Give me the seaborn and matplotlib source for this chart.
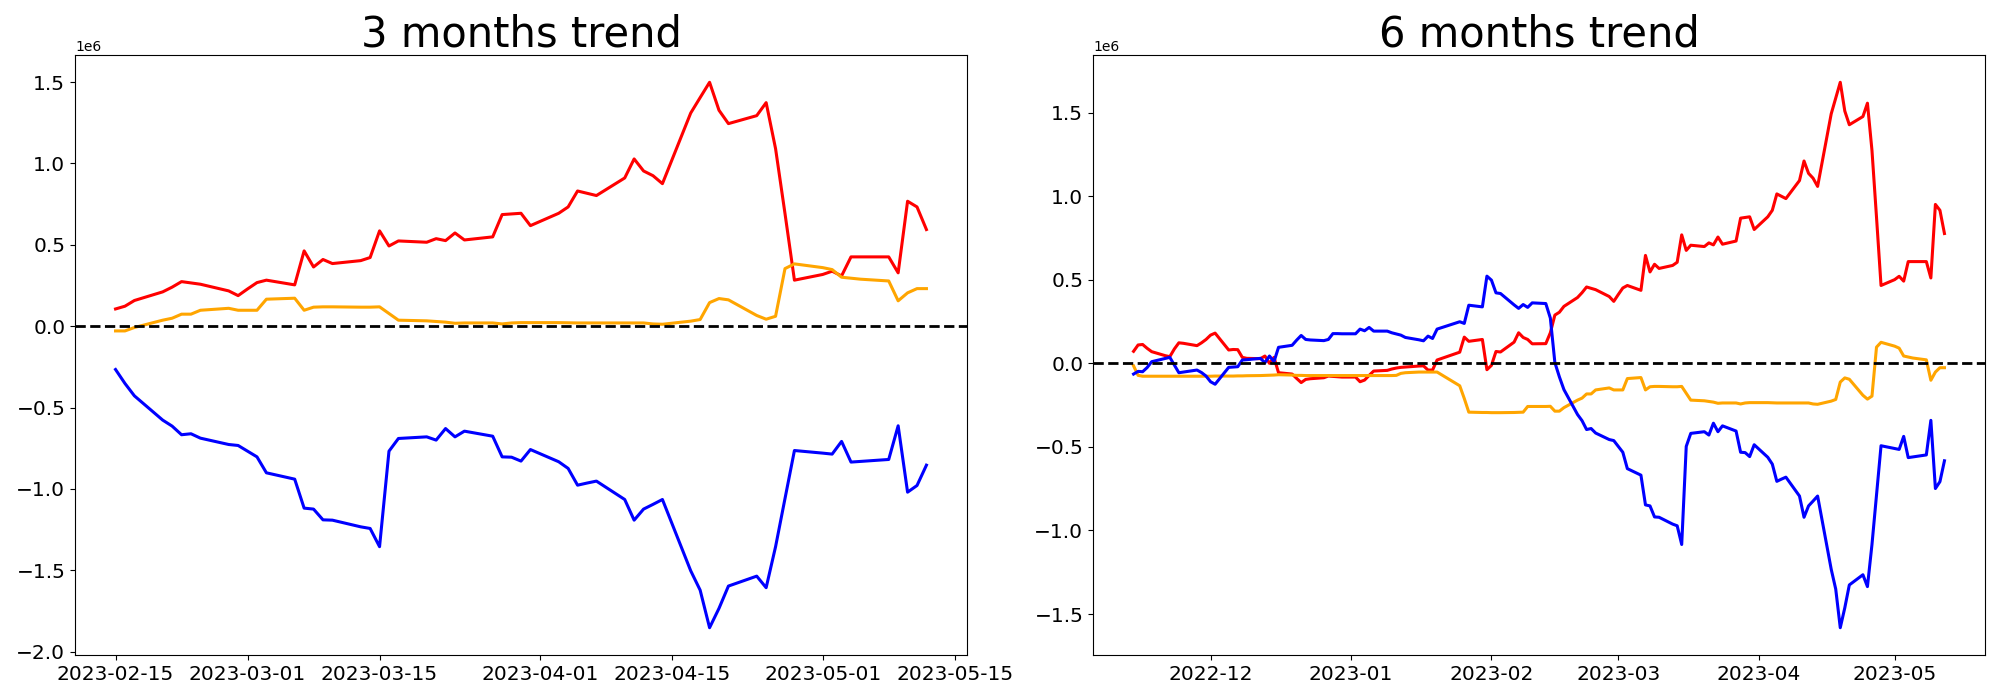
import numpy as np
import pandas as pd
import matplotlib
matplotlib.use("Agg")
import matplotlib.pyplot as plt
import matplotlib.dates as mdates
import seaborn as sns

# ---------------- data (values in millions) ----------------
dates_3m = pd.bdate_range("2023-02-15", "2023-05-12")
dates_6m = pd.bdate_range("2022-11-14", "2023-05-12", freq="C",
                          holidays=["2023-01-23", "2023-01-24"])

red_3m = [
    0.106, 0.123, 0.158, 0.211, 0.240, 0.274, 0.266, 0.258, 0.217, 0.188,
    0.229, 0.268, 0.283, 0.254, 0.463, 0.364, 0.410, 0.385, 0.403, 0.422, 0.586, 0.493, 0.524,
    0.516, 0.538, 0.526, 0.573, 0.530, 0.549, 0.686, 0.690, 0.694, 0.618,
    0.694, 0.733, 0.831, 0.817, 0.803, 0.911, 1.028, 0.954, 0.925, 0.876, 1.310, 1.405, 1.499,
    1.327, 1.245, 1.294, 1.374, 1.091, 0.692, 0.283,
    0.318, 0.338, 0.309, 0.426, 0.426, 0.426, 0.328, 0.768, 0.733, 0.594,
]
orange_3m = [
    -0.029, -0.029, -0.008, 0.037, 0.049, 0.074, 0.074, 0.098, 0.110, 0.098,
    0.098, 0.098, 0.166, 0.172, 0.098, 0.117, 0.119, 0.119, 0.117, 0.117, 0.119, 0.078, 0.037,
    0.033, 0.029, 0.025, 0.018, 0.020, 0.020, 0.014, 0.020, 0.022, 0.022,
    0.022, 0.021, 0.020, 0.020, 0.020, 0.020, 0.020, 0.020, 0.014, 0.012, 0.031, 0.041, 0.145,
    0.170, 0.162, 0.066, 0.043, 0.061, 0.354, 0.383,
    0.360, 0.348, 0.301, 0.295, 0.289, 0.278, 0.156, 0.205, 0.231, 0.231,
]
blue_3m = [
    -0.266, -0.352, -0.428, -0.577, -0.614, -0.667, -0.661, -0.688, -0.727, -0.733,
    -0.768, -0.803, -0.901, -0.940, -1.118, -1.124, -1.190, -1.192, -1.233, -1.243, -1.355,
    -0.768, -0.690, -0.680, -0.700, -0.629, -0.680, -0.645, -0.676, -0.803, -0.805, -0.829,
    -0.758,
    -0.833, -0.874, -0.977, -0.964, -0.952, -1.065, -1.192, -1.124, -1.095, -1.065, -1.503,
    -1.622, -1.853, -1.734, -1.597, -1.536, -1.607, -1.355, -1.059, -0.764,
    -0.780, -0.786, -0.708, -0.835, -0.831, -0.819, -0.612, -1.020, -0.979, -0.854,
]

red_6m = [
    # Nov
    0.072, 0.110, 0.113, 0.090, 0.070, 0.046, 0.040, 0.086, 0.123, 0.120, 0.106, 0.123, 0.143,
    # Dec
    0.169, 0.181, 0.080, 0.083, 0.082, 0.036, 0.030, 0.028, 0.044, 0.000, 0.036, -0.056,
    -0.064, -0.090, -0.115, -0.096, -0.092, -0.086, -0.076, -0.078, -0.080, -0.082,
    # Jan
    -0.082, -0.110, -0.100, -0.072, -0.046, -0.042, -0.034, -0.028, -0.024, -0.022,
    -0.016, -0.015, -0.040, -0.040, 0.020, 0.067, 0.157, 0.132, 0.143, -0.038,
    # Feb
    -0.012, 0.071, 0.068, 0.127, 0.183, 0.155, 0.143, 0.117, 0.118, 0.183,
    0.289, 0.306, 0.341, 0.394, 0.423, 0.457, 0.449, 0.441, 0.400, 0.371,
    # Mar
    0.412, 0.451, 0.466, 0.437, 0.646, 0.547, 0.593, 0.568, 0.586, 0.605, 0.769, 0.676,
    0.707, 0.699, 0.721, 0.709, 0.756, 0.713, 0.732, 0.869, 0.873, 0.877, 0.801,
    # Apr
    0.877, 0.916, 1.014, 1.000, 0.986, 1.094, 1.211, 1.137, 1.108, 1.059, 1.493, 1.588,
    1.682, 1.510, 1.428, 1.477, 1.557, 1.274, 0.875, 0.466,
    # May
    0.501, 0.521, 0.492, 0.609, 0.609, 0.609, 0.511, 0.951, 0.916, 0.777,
]
orange_6m = [
    # Nov
    -0.015, -0.072, -0.077, -0.077, -0.077, -0.077, -0.077, -0.077, -0.077, -0.077,
    -0.077, -0.077, -0.077,
    # Dec
    -0.077, -0.076, -0.076, -0.076, -0.075, -0.075, -0.074, -0.073, -0.072, -0.071,
    -0.070, -0.068, -0.070, -0.072, -0.072, -0.073, -0.073, -0.073, -0.073, -0.073,
    -0.073, -0.073,
    # Jan
    -0.073, -0.073, -0.073, -0.073, -0.073, -0.073, -0.073, -0.072, -0.060, -0.056,
    -0.052, -0.052, -0.052, -0.052, -0.052, -0.134, -0.210, -0.292, -0.294, -0.294,
    # Feb
    -0.295, -0.295, -0.295, -0.294, -0.293, -0.292, -0.258, -0.258, -0.258, -0.257,
    -0.286, -0.286, -0.265, -0.220, -0.208, -0.183, -0.183, -0.159, -0.147, -0.159,
    # Mar
    -0.159, -0.159, -0.091, -0.085, -0.159, -0.140, -0.138, -0.138, -0.140, -0.140,
    -0.138, -0.179, -0.220, -0.224, -0.228, -0.232, -0.239, -0.237, -0.237, -0.243,
    -0.237, -0.235, -0.235,
    # Apr
    -0.235, -0.236, -0.237, -0.237, -0.237, -0.237, -0.237, -0.237, -0.243, -0.245,
    -0.226, -0.216, -0.112, -0.087, -0.095, -0.191, -0.214, -0.196, 0.097, 0.126,
    # May
    0.103, 0.091, 0.044, 0.038, 0.032, 0.021, -0.101, -0.052, -0.026, -0.026,
]
blue_6m = [
    # Nov
    -0.064, -0.048, -0.050, -0.025, 0.010, 0.030, 0.036, -0.010, -0.056, -0.052,
    -0.040, -0.055, -0.076,
    # Dec
    -0.110, -0.125, -0.024, -0.022, -0.020, 0.020, 0.022, 0.030, 0.004, 0.044, 0.010,
    0.096, 0.108, 0.139, 0.167, 0.143, 0.140, 0.136, 0.143, 0.178, 0.178, 0.177,
    # Jan
    0.177, 0.205, 0.195, 0.215, 0.193, 0.193, 0.183, 0.176, 0.169, 0.155, 0.141, 0.135,
    0.163, 0.149, 0.205, 0.249, 0.239, 0.348, 0.338, 0.522,
    # Feb
    0.498, 0.422, 0.418, 0.350, 0.329, 0.352, 0.335, 0.362, 0.358, 0.271,
    0.005, -0.081, -0.157, -0.306, -0.343, -0.396, -0.390, -0.417, -0.456, -0.462,
    # Mar
    -0.497, -0.532, -0.630, -0.669, -0.847, -0.853, -0.919, -0.921, -0.962, -0.972,
    -1.084, -0.497, -0.419, -0.409, -0.429, -0.358, -0.409, -0.374, -0.405, -0.532,
    -0.534, -0.558, -0.487,
    # Apr
    -0.562, -0.603, -0.706, -0.693, -0.681, -0.794, -0.921, -0.853, -0.824, -0.794,
    -1.232, -1.351, -1.582, -1.463, -1.326, -1.265, -1.336, -1.084, -0.788, -0.493,
    # May
    -0.509, -0.515, -0.437, -0.564, -0.560, -0.548, -0.341, -0.749, -0.708, -0.583,
]

series_names = ["red", "orange", "blue"]
palette = {"red": "#ff0000", "orange": "#ffa500", "blue": "#0000ff"}
titles = ["3 months trend", "6 months trend"]
UNIT = 1e6


def make_frame(dates, red, orange, blue):
    parts = []
    for name, vals in zip(series_names, [red, orange, blue]):
        assert len(vals) == len(dates), (name, len(vals), len(dates))
        parts.append(pd.DataFrame({"date": dates,
                                   "value": np.asarray(vals) * UNIT,
                                   "series": name}))
    return pd.concat(parts, ignore_index=True)


df_3m = make_frame(dates_3m, red_3m, orange_3m, blue_3m)
df_6m = make_frame(dates_6m, red_6m, orange_6m, blue_6m)

fig, axes = plt.subplots(1, 2, figsize=(20, 7), dpi=100)
fig.subplots_adjust(left=0.0375, right=0.9925, bottom=0.0643, top=0.9214,
                    wspace=0.1413)

for ax, df, title in zip(axes, [df_3m, df_6m], titles):
    sns.lineplot(data=df, x="date", y="value", hue="series",
                 hue_order=series_names, palette=palette, linewidth=2.2,
                 legend=False, ax=ax)
    ax.axhline(0, color="black", linestyle="--", linewidth=2)
    ax.set_title(title, fontsize=30)
    ax.set_xlabel("")
    ax.set_ylabel("")
    ax.tick_params(labelsize=14.5)

axes[0].xaxis.set_major_locator(mdates.DayLocator(bymonthday=[1, 15]))
axes[0].xaxis.set_major_formatter(mdates.DateFormatter("%Y-%m-%d"))
axes[1].xaxis.set_major_locator(mdates.MonthLocator())
axes[1].xaxis.set_major_formatter(mdates.DateFormatter("%Y-%m"))

fig.savefig("out.png", dpi=100)
